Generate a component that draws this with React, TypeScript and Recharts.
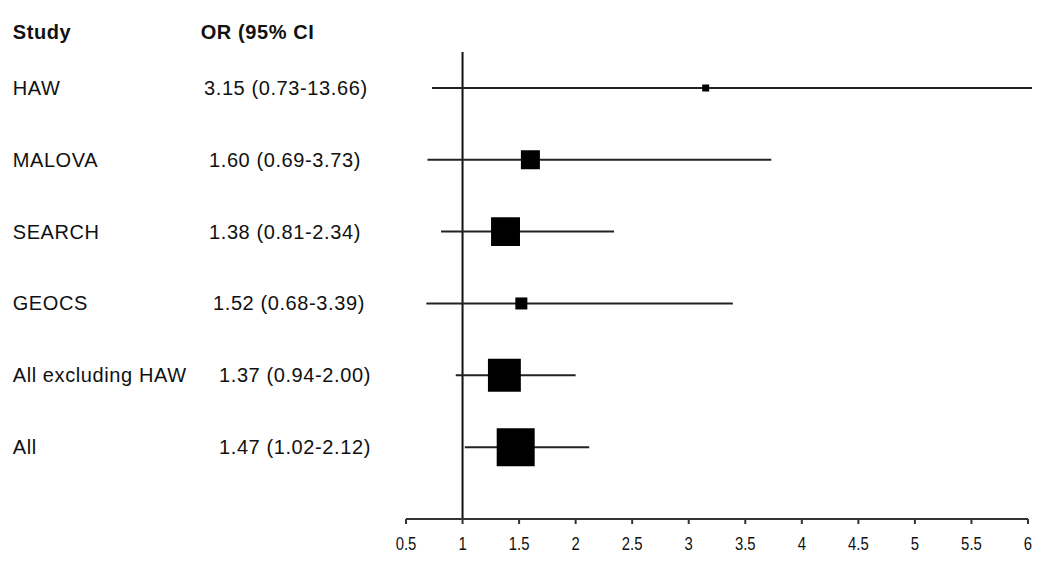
import { ErrorBar, ReferenceLine, Scatter, ScatterChart, XAxis, YAxis, ZAxis } from 'recharts';

const studies = ['HAW', 'MALOVA', 'SEARCH', 'GEOCS', 'All excluding HAW', 'All'];
const oddsRatio = [3.15, 1.6, 1.38, 1.52, 1.37, 1.47];
const ciLower = [0.73, 0.69, 0.81, 0.68, 0.94, 1.02];
const ciUpper = [13.66, 3.73, 2.34, 3.39, 2.0, 2.12];
// relative box weight (area), biggest = 100
const boxWeight = [3.4, 25, 58, 10, 75, 100];
const xTicks = [0.5, 1, 1.5, 2, 2.5, 3, 3.5, 4, 4.5, 5, 5.5, 6];

// small left shifts of the OR column, as in the original layout
const orIndent = [196, 201, 201, 205, 211, 211];

const rows = studies.map((name, i) => ({
  name,
  or: oddsRatio[i],
  row: i + 1,
  err: [oddsRatio[i] - ciLower[i], ciUpper[i] - oddsRatio[i]],
  weight: boxWeight[i],
  label: `${oddsRatio[i].toFixed(2)} (${ciLower[i].toFixed(2)}-${ciUpper[i].toFixed(2)})`,
}));

const textFont = '"Liberation Sans", Arial, sans-serif';

function RowTick(props: any) {
  const { y, payload } = props;
  const i = payload.value - 1;
  const r = rows[i];
  if (!r) return null;
  return (
    <g>
      <text x={4.7} y={y + 7} fontFamily={textFont} fontSize={20} letterSpacing={0.6} fill="#111">
        {r.name}
      </text>
      <text x={orIndent[i]} y={y + 7} fontFamily={textFont} fontSize={20} letterSpacing={0.6} fill="#111">
        {r.label}
      </text>
    </g>
  );
}

// narrow axis numbers (squeezed Liberation Sans)
function OrTick(props: any) {
  const { x, y, payload } = props;
  return (
    <text
      transform={`translate(${x},${y}) scale(0.85,1)`}
      textAnchor="middle"
      dy="0.71em"
      fontFamily={textFont}
      fontSize={17.5}
      fill="#111"
    >
      {payload.value}
    </text>
  );
}

const headStyle = {
  position: 'absolute' as const,
  top: 14,
  font: `bold 20px ${textFont}`,
  lineHeight: '20px',
  letterSpacing: 0.6,
  color: '#111',
};

export default function App() {
  return (
    <div style={{ position: 'relative', width: 1024, height: 565 }}>
      <div style={{ ...headStyle, left: 4.7 }}>Study</div>
      <div style={{ ...headStyle, left: 192.7 }}>OR (95% CI</div>
      <ScatterChart width={1024} height={565} margin={{ top: 44, right: 4, bottom: 14, left: 0 }}>
        <XAxis
          type="number"
          dataKey="or"
          domain={[0.5, 6]}
          ticks={xTicks}
          interval={0}
          height={40}
          axisLine={{ stroke: '#333', strokeWidth: 2 }}
          tickLine={{ stroke: '#333', strokeWidth: 2 }}
          tickSize={5}
          tickMargin={14}
          tick={<OrTick />}
          allowDataOverflow
        />
        <YAxis
          type="number"
          dataKey="row"
          domain={[0.5, 7]}
          reversed
          ticks={[1, 2, 3, 4, 5, 6]}
          interval={0}
          width={398}
          axisLine={false}
          tickLine={false}
          tick={<RowTick />}
        />
        <ZAxis type="number" dataKey="weight" domain={[0, 100]} range={[0, 1444]} />
        <ReferenceLine x={1} stroke="#111" strokeWidth={2} />
        <Scatter data={rows} shape="square" fill="#000" isAnimationActive={false}>
          <ErrorBar dataKey="err" direction="x" width={0} stroke="#222" strokeWidth={2} isAnimationActive={false} />
        </Scatter>
      </ScatterChart>
    </div>
  );
}
